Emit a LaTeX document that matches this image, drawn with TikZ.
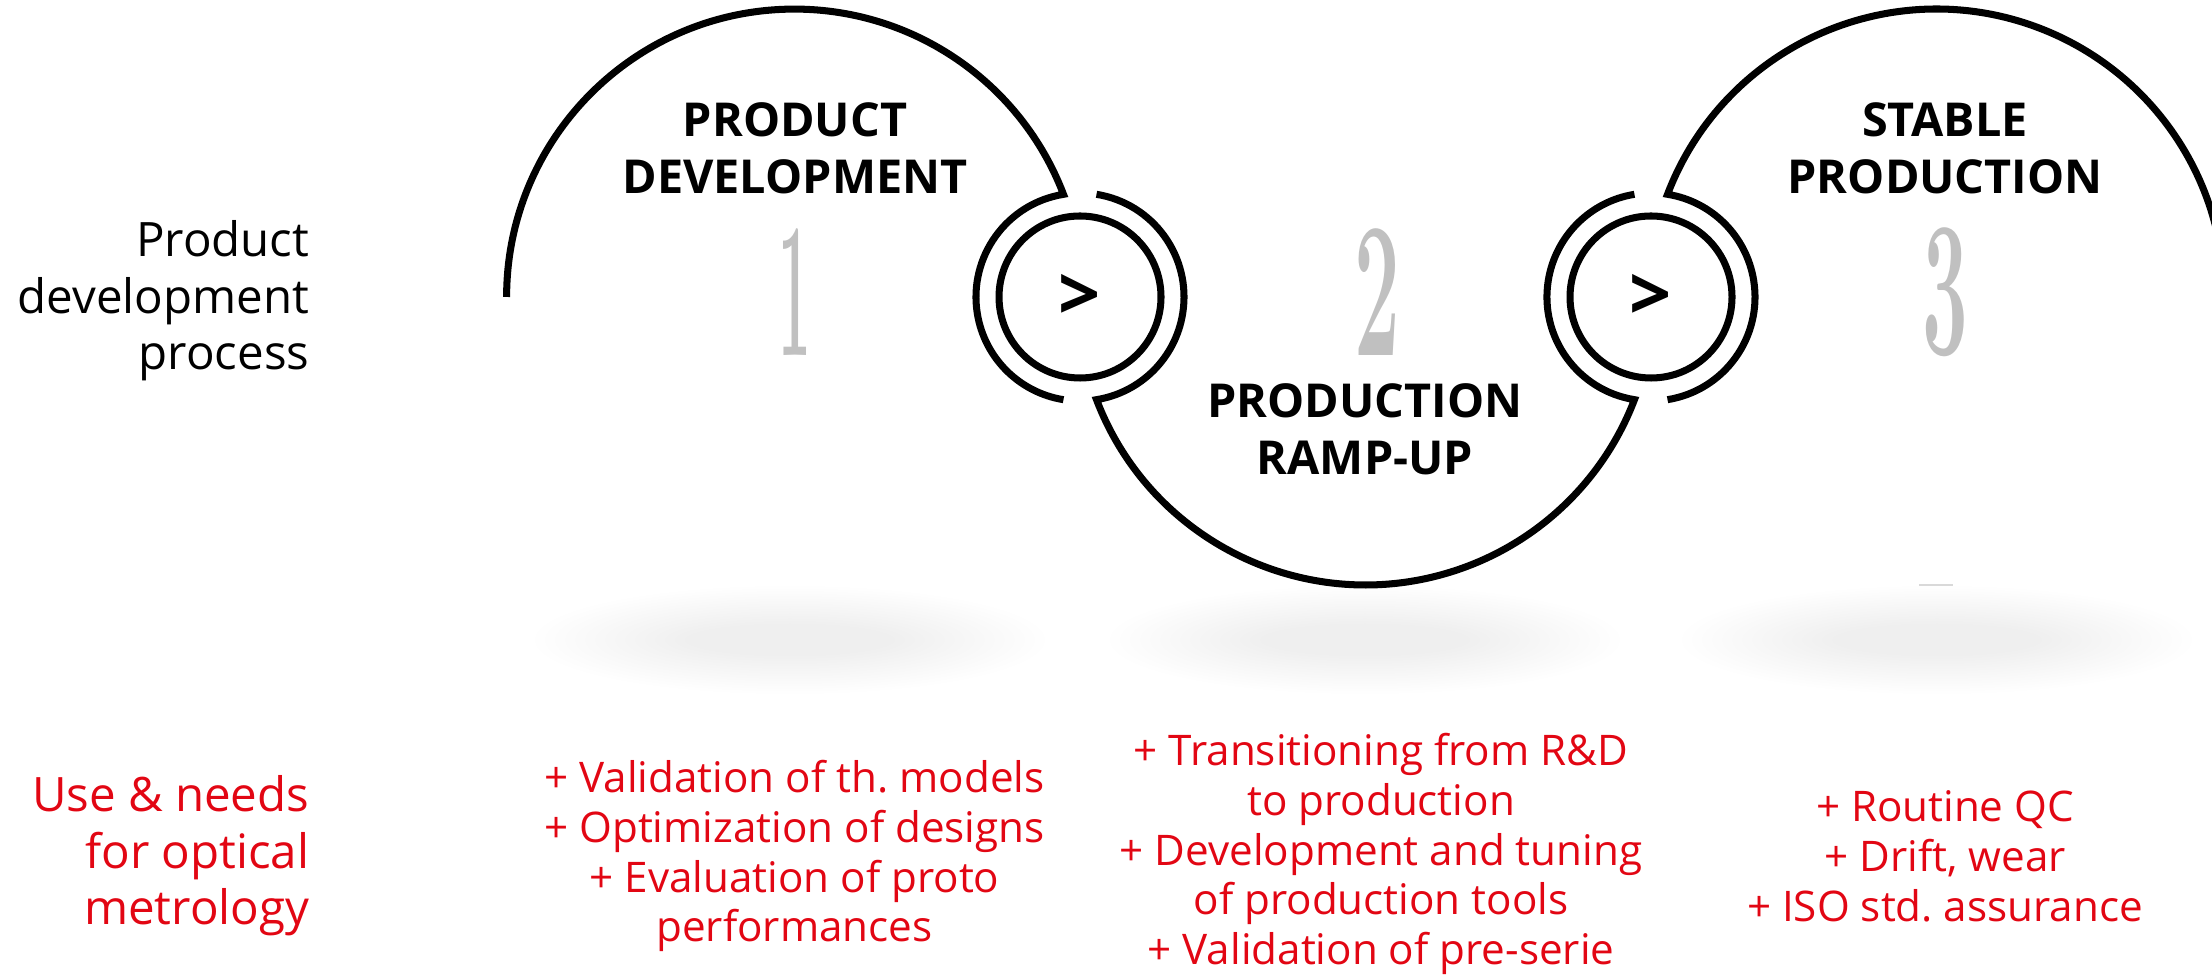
\documentclass[tikz,border=0pt]{standalone}
\usepackage{fontspec}
\usepackage{graphicx}
\usepackage{tikz}
\usetikzlibrary{positioning}
\newfontfamily\opensans{Open Sans}
\definecolor{needred}{RGB}{226,6,19}
\definecolor{numgray}{RGB}{192,192,192}
\frenchspacing

\begin{document}
\begin{tikzpicture}[
        track/.style={line width=2pt},
        hub/.style={circle, draw, line width=2pt, minimum size=1.62cm, inner sep=0pt, font=\opensans\bfseries\fontsize{21}{21}\selectfont},
        phase/.style={align=center, inner sep=0pt, font=\opensans\bfseries\fontsize{13.3}{16.3}\selectfont},
        numeral/.style={text=numgray, inner sep=0pt, font=\bfseries\fontsize{55}{55}\selectfont},
        needs/.style={text=needred, align=center, inner sep=0pt, font=\opensans\fontsize{12}{14.2}\selectfont},
        rowlabel/.style={anchor=east, align=right, inner sep=0pt, font=\opensans\fontsize{13.5}{16.1}\selectfont}
    ]

    \useasboundingbox (0,0) rectangle (22.12,9.76);
    \clip (0,0) rectangle (22.12,9.76);

    % soft shadows under the three stages, built from faint layers
    \foreach \x in {7.90,13.65,19.37}
        \foreach \k in {1,...,16}
            \fill[black, opacity=0.0045] (\x,3.36) ellipse [x radius=0.95+0.1*\k, y radius=0.14+0.025*\k];

    % centres of the arcs and of the two switch rings
    \coordinate (b1) at (7.945,6.79);
    \coordinate (c1) at (10.80,6.79);
    \coordinate (c2) at (16.51,6.79);

    % the winding line: arc 1, ring 1, arc 2, ring 2, arc 3
    \draw[track] (b1) ++(180:2.879) arc[start angle=180, end angle=20.89, radius=2.879]
        arc[start angle=99.13, end angle=260.87, radius=1.04];
    \draw[track] (c1) ++(80.87:1.04) arc[start angle=80.87, end angle=-80.87, radius=1.04]
        arc[start angle=200.89, end angle=339.11, radius=2.879]
        arc[start angle=260.87, end angle=99.13, radius=1.04];
    \draw[track] (c2) ++(-80.87:1.04) arc[start angle=-80.87, end angle=80.87, radius=1.04]
        arc[start angle=159.11, end angle=0, radius=2.879];
    \draw[numgray!60, line width=0.6pt] (19.19,3.91) -- (19.53,3.91);

    % inner rings
    \node[hub] (ring1) at (c1) {>};
    \node[hub] (ring2) at (c2) {>};

    % stage numbers
    \node[numeral] (num1) at (7.95,6.84) {\scalebox{0.3}[1]{1}};
    \node[numeral] (num2) at (13.77,6.84) {\scalebox{0.42}[1]{2}};
    \node[numeral] (num3) at (19.45,6.84) {\scalebox{0.42}[1]{3}};

    % stage titles
    \node[phase, above=0.33cm of num1] (title1) {PRODUCT\\DEVELOPMENT};
    \node[phase, below=0.27cm of num2, xshift=-0.12cm] (title2) {PRODUCTION\\RAMP-UP};
    \node[phase, above=0.32cm of num3] (title3) {STABLE\\PRODUCTION};

    % row labels
    \node[rowlabel] (process) at (3.10,6.75) {Product\\development\\process};
    \node[rowlabel, text=needred] (usage) at (3.10,1.20) {Use \& needs\\for optical\\metrology};

    % needs per stage
    \node[needs] (needs1) at (7.945,1.20) {+ Validation of th. models\\+ Optimization of designs\\+ Evaluation of proto\\performances};
    \node[needs] (needs2) at (13.81,1.22) {+ Transitioning from R\&D\\to production\\+ Development and tuning\\of production tools\\+ Validation of pre-serie};
    \node[needs] (needs3) at (19.45,1.20) {+ Routine QC\\+ Drift, wear\\+ ISO std. assurance};

\end{tikzpicture}
\end{document}
